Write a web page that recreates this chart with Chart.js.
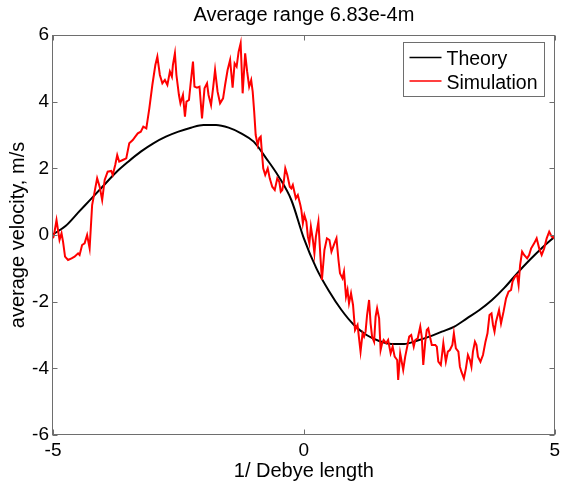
<!DOCTYPE html>
<html>
<head>
<meta charset="utf-8">
<title>Average range 6.83e-4m</title>
<script src="https://cdn.jsdelivr.net/npm/chart.js"></script>
<style>
  html, body { margin: 0; padding: 0; background: #fff; }
  #wrap { width: 564px; height: 483px; }
</style>
</head>
<body>
<div id="wrap"><canvas id="chart" width="564" height="483"></canvas></div>
<script>
const chartTitle = 'Average range 6.83e-4m';

// axis ticks
const xTicks = [-5, 0, 5];
const yTicks = [-6, -4, -2, 0, 2, 4, 6];

// theory curve
const theoryX = [-5, -4.75, -4.5, -4.25, -4, -3.75, -3.5, -3.25, -3, -2.75, -2.5, -2.25, -2, -1.75, -1.5, -1.25, -1, -0.75, -0.5, -0.25, 0,
                 0.25, 0.5, 0.75, 1, 1.25, 1.5, 1.75, 2, 2.25, 2.5, 2.75, 3, 3.25, 3.5, 3.75, 4, 4.25, 4.5, 4.75, 5];
const theoryY = [0.02, 0.27, 0.67, 1.07, 1.47, 1.87, 2.2, 2.5, 2.75, 2.95, 3.1, 3.22, 3.3, 3.3, 3.22, 3.05, 2.8, 2.3, 1.75, 1.05, -0.1,
                 -1.0, -1.68, -2.25, -2.7, -3.0, -3.18, -3.27, -3.27, -3.17, -3.05, -2.9, -2.75, -2.5, -2.25, -1.95, -1.58, -1.15, -0.75, -0.38, -0.05];

// simulation trace
const simX = [
  -5.00, -4.98, -4.93, -4.87, -4.83, -4.80, -4.76, -4.70, -4.63, -4.57, -4.50, -4.47, -4.42, -4.37, -4.32, -4.27, -4.22, -4.17, -4.12, -4.07,
  -4.02, -3.97, -3.91, -3.84, -3.81, -3.76, -3.72, -3.68, -3.61, -3.54, -3.48, -3.41, -3.36, -3.31, -3.25, -3.20, -3.14, -3.08, -3.02, -2.96,
  -2.92, -2.87, -2.82, -2.77, -2.72, -2.67, -2.63, -2.61, -2.57,
  -2.54, -2.49, -2.46, -2.41, -2.37, -2.34, -2.29, -2.26, -2.21, -2.18, -2.13, -2.08, -2.03, -1.98, -1.93, -1.90, -1.85, -1.81, -1.77, -1.72,
  -1.67, -1.61, -1.57, -1.52, -1.47, -1.42, -1.38, -1.34, -1.30, -1.26, -1.22, -1.17, -1.13, -1.09, -1.05, -1.02, -0.99, -0.96, -0.92, -0.89,
  -0.86, -0.84, -0.81, -0.77, -0.72, -0.68, -0.63, -0.58, -0.53, -0.49, -0.46, -0.43, -0.40, -0.37, -0.33, -0.28, -0.25, -0.22, -0.16, -0.12,
  -0.07,
  -0.05, -0.02, 0.01, 0.05, 0.08, 0.11, 0.14, 0.18, 0.21, 0.24, 0.29, 0.33, 0.36, 0.41, 0.46, 0.51, 0.55, 0.61, 0.65, 0.69,
  0.72, 0.77, 0.80, 0.84, 0.87, 0.90, 0.94, 0.98, 1.02, 1.07, 1.10, 1.13, 1.17, 1.20, 1.23, 1.26, 1.30, 1.33, 1.36, 1.40,
  1.43, 1.46, 1.50, 1.53, 1.56, 1.59, 1.64, 1.68, 1.73, 1.77, 1.81, 1.86, 1.88, 1.92, 1.98, 2.02, 2.06, 2.10, 2.14, 2.19,
  2.22, 2.27, 2.32, 2.35,
  2.38, 2.42, 2.45, 2.48, 2.52, 2.55, 2.62, 2.65, 2.68, 2.73, 2.78, 2.83, 2.87, 2.91, 2.96, 2.99, 3.03, 3.08, 3.11, 3.14,
  3.19, 3.23, 3.27, 3.31, 3.34, 3.37, 3.41, 3.44, 3.47, 3.52, 3.57, 3.62, 3.66, 3.70, 3.74, 3.77, 3.80, 3.83, 3.89, 3.93,
  3.98, 4.03, 4.08, 4.13, 4.16, 4.21, 4.25, 4.28, 4.31, 4.35, 4.39, 4.45, 4.49, 4.53, 4.59, 4.64, 4.69, 4.74, 4.79, 4.84,
  4.89, 4.94, 4.99, 5.00
];
const simY = [
  -0.10, 0.00, 0.45, -0.15, 0.05, -0.20, -0.65, -0.75, -0.70, -0.65, -0.55, -0.60, -0.30, -0.25, 0.00, -0.40, 0.90, 1.30, 1.70, 1.45,
  1.05, 1.65, 1.90, 1.92, 1.80, 2.10, 2.40, 2.20, 2.25, 2.30, 2.75, 2.85, 2.95, 3.05, 3.10, 3.25, 3.20, 3.80, 4.50, 5.10,
  5.35, 4.80, 4.55, 4.65, 4.50, 4.90, 4.75, 5.10, 5.45,
  4.80, 4.20, 3.95, 4.20, 3.55, 4.00, 4.05, 4.50, 5.20, 4.45, 4.42, 4.45, 3.50, 4.40, 4.55, 4.20, 3.90, 4.40, 4.95, 4.30,
  3.95, 4.10, 4.50, 4.95, 5.25, 4.42, 5.15, 5.05, 5.50, 5.75, 4.25, 5.45, 4.90, 4.45, 4.65, 4.30, 3.70, 3.00, 2.70, 2.90,
  2.95, 2.55, 2.00, 1.80, 2.00, 1.70, 1.45, 1.35, 1.70, 1.60, 1.30, 1.35, 1.60, 2.00, 1.80, 1.45, 1.40, 1.50, 1.10, 1.20,
  0.90,
  0.75, 0.35, 0.60, 0.40, -0.05, -0.25, 0.25, -0.15, -0.55, -0.05, 0.40, -0.65, -1.35, -0.45, -0.10, -0.15, -0.50, -0.25, -0.10, -0.75,
  -1.15, -1.30, -1.10, -1.85, -1.65, -2.05, -1.75, -2.10, -2.85, -2.70, -3.10, -3.50, -2.95, -3.05, -2.90, -2.40, -1.95, -2.65, -3.05, -3.20,
  -2.45, -2.20, -2.50, -3.45, -3.25, -3.15, -3.25, -3.15, -3.55, -3.35, -3.65, -3.75, -4.35, -3.55, -4.05, -3.65, -3.35, -3.05, -3.00, -3.35,
  -3.15, -3.10, -2.75, -3.05,
  -3.90, -3.20, -2.85, -2.80, -3.10, -3.30, -3.30, -3.35, -3.80, -3.90, -3.25, -3.80, -3.50, -3.45, -3.30, -2.95, -3.40, -3.50, -3.95, -4.10,
  -4.30, -4.00, -3.60, -3.75, -3.95, -3.50, -3.20, -3.30, -3.65, -3.80, -3.60, -3.20, -2.95, -2.40, -2.35, -2.70, -2.90, -2.60, -2.25, -2.65,
  -2.30, -1.90, -1.70, -1.65, -1.40, -1.25, -1.20, -1.50, -0.90, -0.50, -0.60, -0.70, -0.60, -0.40, -0.25, -0.10, -0.40, -0.60, -0.40, -0.10,
  0.10, -0.05, -0.10, -0.02
];

const FONT = "'Liberation Sans', Arial, Helvetica, sans-serif";

// box round the plot with inward ticks on all four sides (matlab look)
const frame = {
  id: 'frame',
  afterDatasetsDraw(chart) {
    const { ctx, chartArea: a, scales } = chart;
    const l = Math.round(a.left) - 0.5, r = Math.round(a.right) - 0.5;
    const t = Math.round(a.top) + 0.5, b = Math.round(a.bottom) - 0.5;
    ctx.save();
    ctx.strokeStyle = '#6e6e6e';
    ctx.lineWidth = 1;
    ctx.strokeRect(l, t, r - l, b - t);
    ctx.beginPath();
    xTicks.forEach(v => {
      const px = Math.round(scales.x.getPixelForValue(v)) + 0.5;
      ctx.moveTo(px, b); ctx.lineTo(px, b - 5);
      ctx.moveTo(px, t); ctx.lineTo(px, t + 5);
    });
    yTicks.forEach(v => {
      const py = Math.round(scales.y.getPixelForValue(v)) + 0.5;
      ctx.moveTo(l, py); ctx.lineTo(l + 5, py);
      ctx.moveTo(r, py); ctx.lineTo(r - 5, py);
    });
    ctx.stroke();
    // title centred over the plot box, not the canvas
    ctx.fillStyle = '#000';
    ctx.font = '20px ' + FONT;
    ctx.textAlign = 'center';
    ctx.textBaseline = 'alphabetic';
    ctx.fillText(chartTitle, (a.left + a.right) / 2, 20.5);
    ctx.restore();
  }
};

// boxed legend in the top right corner of the plot
const boxLegend = {
  id: 'boxLegend',
  afterDraw(chart) {
    const { ctx, chartArea: a } = chart;
    const x0 = Math.round(a.right) - 151.5, y0 = Math.round(a.top) + 7.5;
    ctx.save();
    ctx.fillStyle = '#fff';
    ctx.fillRect(x0, y0, 141, 54);
    ctx.strokeStyle = '#6e6e6e';
    ctx.lineWidth = 1;
    ctx.strokeRect(x0, y0, 141, 54);
    ctx.font = '19.5px ' + FONT;
    ctx.textBaseline = 'alphabetic';
    ctx.textAlign = 'left';
    chart.data.datasets.forEach((ds, i) => {
      const ly = y0 + 15 + i * 23.5;
      ctx.strokeStyle = ds.borderColor;
      ctx.lineWidth = 1.5;
      ctx.beginPath();
      ctx.moveTo(x0 + 6, ly); ctx.lineTo(x0 + 38, ly);
      ctx.stroke();
      ctx.fillStyle = '#000';
      ctx.fillText(ds.label, x0 + 43, ly + 7.5);
    });
    ctx.restore();
  }
};

new Chart(document.getElementById('chart'), {
  type: 'line',
  data: {
    datasets: [
      {
        label: 'Theory',
        data: theoryX.map((x, i) => ({ x: x, y: theoryY[i] })),
        borderColor: '#000000',
        borderWidth: 2,
        pointRadius: 0,
        cubicInterpolationMode: 'monotone',
        order: 1
      },
      {
        label: 'Simulation',
        data: simX.map((x, i) => ({ x: x, y: simY[i] })),
        borderColor: '#ff0000',
        borderWidth: 2,
        pointRadius: 0,
        tension: 0,
        order: 0
      }
    ]
  },
  options: {
    responsive: false,
    animation: false,
    layout: { padding: { left: 0, right: 6, top: 35, bottom: 0 } },
    plugins: {
      legend: { display: false },
      tooltip: { enabled: false },
      title: { display: false }
    },
    scales: {
      x: {
        type: 'linear',
        min: -5,
        max: 5,
        afterFit: s => { s.height = 48; },
        afterBuildTicks: s => { s.ticks = xTicks.map(v => ({ value: v })); },
        grid: { display: false, drawTicks: false },
        border: { display: false },
        ticks: { color: '#000', padding: 4, maxRotation: 0, font: { family: FONT, size: 19 }, callback: v => String(v) },
        title: { display: true, text: '1/ Debye length', color: '#000', font: { family: FONT, size: 20 }, padding: { top: 0, bottom: 0 } }
      },
      y: {
        min: -6,
        max: 6,
        afterFit: s => { s.width = 53; },
        afterBuildTicks: s => { s.ticks = yTicks.map(v => ({ value: v })); },
        grid: { display: false, drawTicks: false },
        border: { display: false },
        ticks: { color: '#000', padding: 4, font: { family: FONT, size: 19 }, callback: v => String(v) },
        title: { display: true, text: 'average velocity, m/s', color: '#000', font: { family: FONT, size: 20 }, padding: { top: 6, bottom: 0 } }
      }
    }
  },
  plugins: [frame, boxLegend]
});
</script>
</body>
</html>
